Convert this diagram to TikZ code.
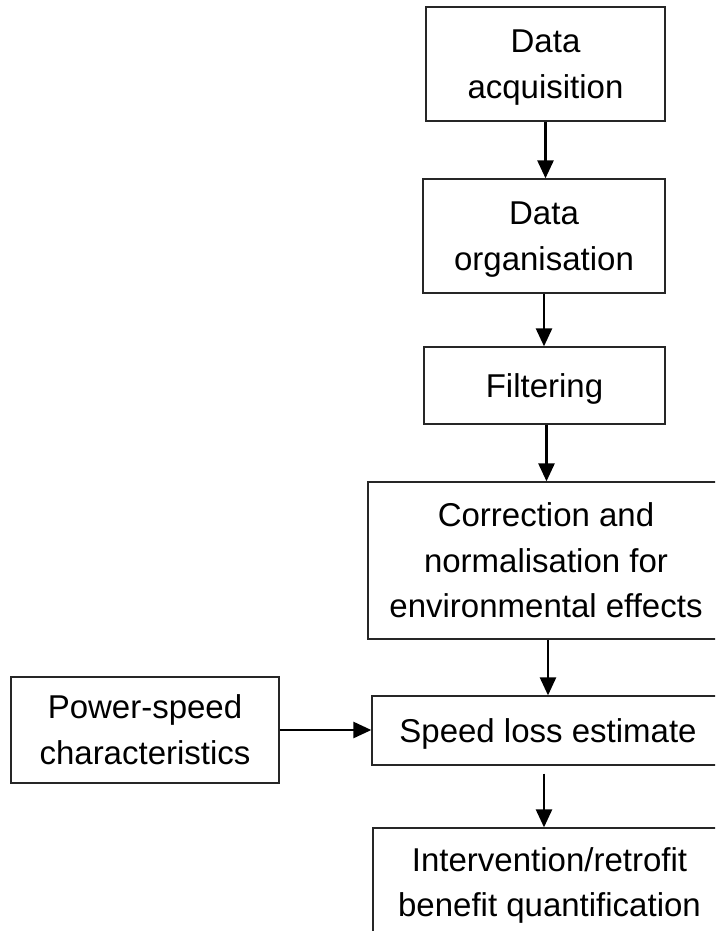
\documentclass[tikz,border=0pt]{standalone}
\usepackage{fontspec}
\setmainfont{Liberation Sans}
\usetikzlibrary{arrows.meta}
% centred lines of a box label, set a little below the geometric middle
\newcommand\boxtext[1]{\raisebox{-2.5pt}[\height][\depth]{\begin{tabular}{@{}c@{}}#1\end{tabular}}}
\begin{document}
\begin{tikzpicture}[x=1pt,y=-1pt,
  stepbox/.style={draw=black!85, line width=1.3pt, rectangle, inner sep=0pt,
    font=\fontsize{33}{45.5}\selectfont},
  arr/.style={line width=2.6pt, -{Triangle[width=16pt,length=18pt]}}]
\useasboundingbox (0,0) rectangle (715,931);
\clip (0,0) rectangle (715,931);
% process chain
\node[stepbox, minimum width=239pt, minimum height=114pt] (acq) at (545.5,64) {\boxtext{Data\\acquisition}};
\node[stepbox, minimum width=242pt, minimum height=114pt] (org) at (544,236) {\boxtext{Data\\organisation}};
\node[stepbox, minimum width=241pt, minimum height=77pt] (filt) at (544.5,385.5) {\boxtext{Filtering}};
\node[stepbox, minimum width=356pt, minimum height=157pt] (corr) at (546,560.5) {\boxtext{Correction and\\normalisation for\\environmental effects}};
\node[stepbox, minimum width=352pt, minimum height=69pt] (speed) at (548,730.5) {\boxtext{Speed loss estimate}};
\node[stepbox, minimum width=353pt, minimum height=109pt] (interv) at (549.5,882.5) {\boxtext{Intervention/retrofit\\benefit quantification}};
% side input
\node[stepbox, minimum width=268pt, minimum height=106pt] (power) at (145,730) {\boxtext{Power-speed\\characteristics}};
% connectors
\draw[arr] (acq.south) -- (acq.south |- org.north);
\draw[arr] (org.south) -- (org.south |- filt.north);
\draw[arr] ([xshift=2pt]filt.south) -- ([xshift=2pt]filt.south |- corr.north);
\draw[arr] ([xshift=2pt]corr.south) -- ([xshift=2pt]corr.south |- speed.north);
\draw[arr, shorten <=8pt] ([xshift=-4pt]speed.south) -- ([xshift=-4pt]speed.south |- interv.north);
\draw[arr] (power.east) -- (power.east -| speed.west);
\end{tikzpicture}
\end{document}
